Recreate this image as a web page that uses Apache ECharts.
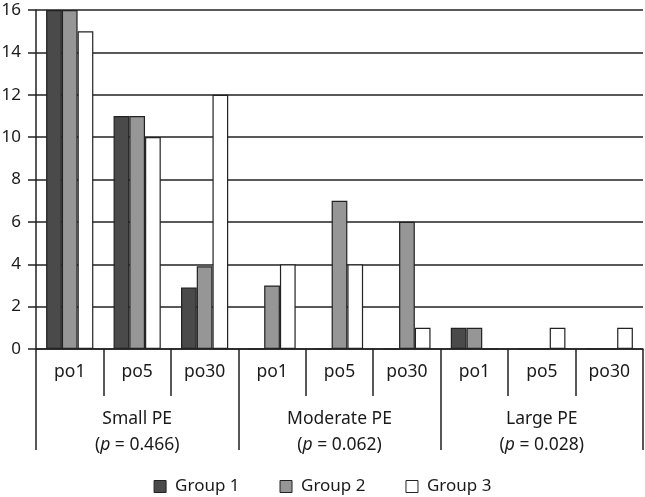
<!DOCTYPE html>
<html>
<head>
<meta charset="utf-8">
<script src="https://cdn.jsdelivr.net/npm/echarts@6/dist/echarts.min.js"></script>
<style>
html,body{margin:0;padding:0;background:#fff;}
#chart{width:645px;height:497px;}
</style>
</head>
<body>
<div id="chart"></div>
<script>
var categories = ['po1','po5','po30','po1','po5','po30','po1','po5','po30'];
var groupNames = ['Small PE','Moderate PE','Large PE'];
var pValues = ['0.466','0.062','0.028'];
var seriesNames = ['Group 1','Group 2','Group 3'];
var group1 = [16, 11, 2.9, 0, 0, 0, 1, 0, 0];
var group2 = [16, 11, 3.9, 3, 7, 6, 1, 0, 0];
var group3 = [15, 10, 12, 4, 4, 1, 0, 1, 1];
var yTicks = [0, 2, 4, 6, 8, 10, 12, 14, 16];

var FONT = 'Noto Sans';
var FS = 17.5;
var LINE = '#222';
var TXT = '#1a1a1a';
var colors = ['#4a4a4a', '#969696', '#ffffff'];

var chart = echarts.init(document.getElementById('chart'));
var groupLabels = groupNames.map(function(g, i){ return g + '|' + pValues[i]; });

function mkSeries(name, data, color){
  return {
    name: name, type: 'bar', data: data,
    barGap: '0%', barCategoryGap: '30%',
    itemStyle: { color: color, borderColor: LINE, borderWidth: 1.2 },
    emphasis: { disabled: true }
  };
}

chart.setOption({
  animation: false,
  textStyle: { fontFamily: FONT },
  grid: { left: 36, right: 2, top: 10, bottom: 148, containLabel: false, outerBoundsMode: 'none' },
  legend: {
    top: 473, left: 'center',
    icon: 'rect', itemWidth: 12, itemHeight: 12, itemGap: 40,
    textStyle: { fontFamily: FONT, fontSize: 17, color: TXT, padding: [0, 0, 0, 4] },
    data: seriesNames.map(function(n){ return { name: n, itemStyle: { borderColor: LINE, borderWidth: 1 } }; })
  },
  xAxis: [
    {
      type: 'category', data: categories, position: 'bottom',
      axisLine: { show: true, lineStyle: { color: LINE, width: 1.5 } },
      axisTick: { show: true, interval: 0, length: 47, lineStyle: { color: LINE, width: 1.5 } },
      axisLabel: { interval: 0, margin: 14, fontSize: FS, color: TXT, fontFamily: FONT }
    },
    {
      type: 'category', data: groupLabels, position: 'bottom', offset: 0,
      axisLine: { show: false },
      axisTick: { show: true, interval: 0, length: 101, lineStyle: { color: LINE, width: 1.5 } },
      axisLabel: {
        interval: 0, margin: 57, fontSize: FS, color: TXT, fontFamily: FONT, lineHeight: 26,
        formatter: function(v){
          var parts = v.split('|');
          return '{n|' + parts[0] + '}\n{n|(}{i|p}{n| = ' + parts[1] + ')}';
        },
        rich: {
          n: { fontSize: FS, color: TXT, fontFamily: FONT, lineHeight: 26 },
          i: { fontSize: FS, color: TXT, fontFamily: FONT, fontStyle: 'italic', lineHeight: 26 }
        }
      }
    }
  ],
  yAxis: {
    type: 'value', min: yTicks[0], max: yTicks[yTicks.length - 1], interval: 2,
    axisLine: { show: true, lineStyle: { color: LINE, width: 1.5 } },
    axisTick: { show: true, length: 8, lineStyle: { color: LINE, width: 1.5 } },
    axisLabel: { margin: 15, fontSize: 17, color: TXT, fontFamily: FONT },
    splitLine: { show: true, lineStyle: { color: LINE, width: 1.5 } }
  },
  series: [
    mkSeries(seriesNames[0], group1, colors[0]),
    mkSeries(seriesNames[1], group2, colors[1]),
    mkSeries(seriesNames[2], group3, colors[2])
  ]
});
</script>
</body>
</html>
